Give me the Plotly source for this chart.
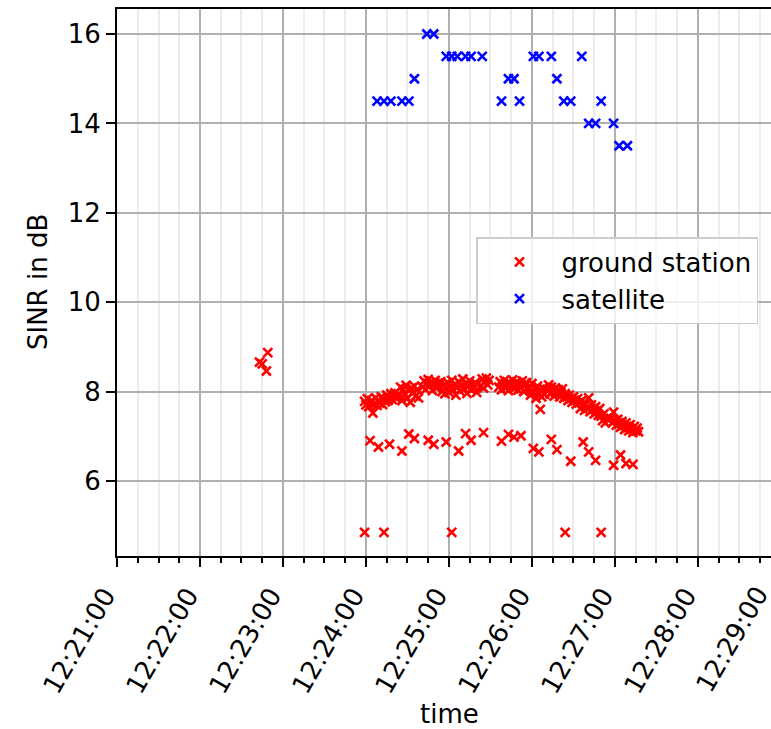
import plotly.graph_objects as go
from datetime import datetime, timedelta

DAY = "2020-01-01"

# ---------------- data ----------------
# satellite measurements
sat_time = ["12:24:08", "12:24:13", "12:24:18", "12:24:26", "12:24:31", "12:24:35",
            "12:24:44", "12:24:49", "12:24:58", "12:25:02", "12:25:06", "12:25:12",
            "12:25:16", "12:25:24", "12:25:38", "12:25:43", "12:25:47", "12:25:51",
            "12:26:01", "12:26:05", "12:26:14", "12:26:18", "12:26:23", "12:26:28",
            "12:26:36", "12:26:41", "12:26:46", "12:26:50", "12:26:59", "12:27:03",
            "12:27:09"]
sat_sinr = [14.5, 14.5, 14.5, 14.5, 14.5, 15.0,
            16.0, 16.0, 15.5, 15.5, 15.5, 15.5,
            15.5, 15.5, 14.5, 15.0, 15.0, 14.5,
            15.5, 15.5, 15.5, 15.0, 14.5, 14.5,
            15.5, 14.0, 14.0, 14.5, 14.0, 13.5,
            13.5]

# ground station: early cluster
gs_early_time = ["12:22:43", "12:22:45", "12:22:49", "12:22:48"]
gs_early_sinr = [8.66, 8.62, 8.87, 8.46]

# ground station: low outliers
gs_low_time = ["12:23:59", "12:24:13", "12:25:02", "12:26:24", "12:26:50"]
gs_low_sinr = [4.85, 4.85, 4.85, 4.85, 4.85]

# ground station: lower row
gs_row_time = ["12:24:03", "12:24:09", "12:24:17", "12:24:26", "12:24:31", "12:24:35",
               "12:24:45", "12:24:49", "12:24:58", "12:25:07", "12:25:12", "12:25:16",
               "12:25:25", "12:25:38", "12:25:43", "12:25:47", "12:25:52", "12:26:01",
               "12:26:05", "12:26:14", "12:26:18", "12:26:28", "12:26:37", "12:26:41",
               "12:26:46", "12:26:59", "12:27:04", "12:27:08", "12:27:13"]
gs_row_sinr = [6.90, 6.76, 6.82, 6.67, 7.05, 6.95,
               6.91, 6.82, 6.87, 6.67, 7.06, 6.91,
               7.08, 6.89, 7.04, 6.98, 7.01, 6.73,
               6.65, 6.93, 6.70, 6.44, 6.87, 6.65,
               6.46, 6.35, 6.58, 6.39, 6.37]

# ground station: dense band, seconds after 12:24:00
gs_band_sec = [-1, 0, 1, 2, 3, 4, 5, 6, 7, 8, 9, 10, 11, 12, 13, 14, 15, 16, 17, 18, 19, 20, 21, 22,
               24, 25, 26, 27, 28, 29, 30, 31, 32, 33, 34, 35, 36, 37, 38,
               41, 42, 43, 44, 45, 46, 47, 48, 49, 50, 51, 52, 53, 54,
               55, 56, 57, 58, 59, 60, 61, 62, 63, 64, 65, 66, 67, 68, 69, 70, 71, 72, 73, 74, 75, 76, 77, 78, 79, 80,
               83, 84, 85, 86, 87, 88, 89,
               96, 97, 98, 99, 100, 101, 102, 103, 104, 105, 106, 107, 108, 109, 110, 111, 112, 113, 114, 115, 116, 117,
               118, 119, 120, 121, 122, 123, 124, 125, 126, 127, 128, 129, 126,
               131, 132, 133, 134, 135, 136, 137, 138, 139, 140, 141, 142, 143, 144, 145, 146, 147, 148, 149, 150, 151, 152, 153,
               154, 155, 156, 157, 158, 159, 160, 161, 162, 163, 164, 165, 166, 167, 168, 169, 170, 171, 172, 173, 174,
               177, 178, 179, 180, 181, 182, 183, 184, 185, 186, 187, 188, 189, 190, 191, 192, 193, 194, 195, 196, 197]
gs_band_sinr = [7.78, 7.70, 7.84, 7.66, 7.75, 7.80, 7.52, 7.72, 7.86, 7.69, 7.79, 7.74, 7.88, 7.71, 7.83, 7.77,
                7.92, 7.80, 7.86, 7.95, 7.82, 7.90, 7.97, 7.85,
                7.92, 8.10, 7.80, 8.05, 7.95, 8.14, 7.85, 8.02, 7.76, 8.08, 7.98, 8.12, 7.90, 8.04, 7.86,
                8.10, 8.24, 8.05, 8.18, 8.27, 8.12, 8.20, 8.02, 8.15, 8.25, 8.08, 8.19, 8.13, 8.22,
                8.00, 8.15, 7.95, 8.08, 8.20, 7.98, 8.12, 8.25, 8.04, 8.16, 7.92, 8.10, 8.22, 8.01, 8.14, 8.28,
                8.06, 8.18, 7.96, 8.12, 8.24, 8.03, 8.15, 8.08, 8.20, 7.98,
                8.12, 8.28, 8.08, 8.22, 8.30, 8.15, 8.25,
                8.10, 8.22, 8.04, 8.16, 8.25, 8.08, 8.18, 8.02, 8.20, 8.12, 8.26, 8.06, 8.15, 8.22, 8.03, 8.17,
                8.10, 8.24, 8.00, 8.14, 8.20, 8.06,
                8.10, 7.92, 8.18, 7.98, 8.06, 7.85, 8.12, 7.95, 8.02, 7.88, 8.08, 7.94, 7.60,
                8.05, 8.15, 7.95, 8.10, 8.00, 7.90, 8.08, 7.96, 8.04, 7.88, 7.98, 8.06, 7.85, 7.95, 7.90, 7.80,
                7.92, 7.84, 7.76, 7.88, 7.80, 7.72, 7.84,
                7.75, 7.62, 7.80, 7.68, 7.58, 7.72, 7.64, 7.86, 7.55, 7.70, 7.60, 7.50, 7.66, 7.56, 7.47, 7.62,
                7.45, 7.35, 7.50, 7.30, 7.40,
                7.40, 7.30, 7.54, 7.35, 7.25, 7.38, 7.28, 7.20, 7.33, 7.24, 7.15, 7.30, 7.20, 7.12, 7.26, 7.16,
                7.08, 7.22, 7.12, 7.18, 7.10]

x_tick_labels = ["12:21:00", "12:22:00", "12:23:00", "12:24:00", "12:25:00",
                 "12:26:00", "12:27:00", "12:28:00", "12:29:00"]

# ---------------- build ----------------
def ts(hms):
    return datetime.strptime(f"{DAY} {hms}", "%Y-%m-%d %H:%M:%S")

band_base = ts("12:24:00")
gs_x = ([ts(t) for t in gs_early_time] + [band_base + timedelta(seconds=s) for s in gs_band_sec]
        + [ts(t) for t in gs_row_time] + [ts(t) for t in gs_low_time])
gs_y = gs_early_sinr + gs_band_sinr + gs_row_sinr + gs_low_sinr
sat_x = [ts(t) for t in sat_time]

FONT = "DejaVu Sans, Verdana, sans-serif"

fig = go.Figure()
fig.add_trace(go.Scatter(
    x=gs_x, y=gs_y, mode="markers", name="ground station",
    marker=dict(symbol="x-thin", size=9, color="#ff0000", line=dict(color="#ff0000", width=2.6)),
))
fig.add_trace(go.Scatter(
    x=sat_x, y=sat_sinr, mode="markers", name="satellite",
    marker=dict(symbol="x-thin", size=9, color="#0000ff", line=dict(color="#0000ff", width=2.6)),
))

x0 = ts(x_tick_labels[0])
x_end = x0 + timedelta(seconds=472.8)

fig.update_xaxes(
    type="date", range=[x0, x_end],
    tickmode="array", tickvals=[ts(t) for t in x_tick_labels[:-1]], ticktext=x_tick_labels[:-1],
    tickangle=-60, ticks="outside", ticklen=9, tickwidth=2, tickcolor="black",
    ticklabelstandoff=3, ticklabelshift=-12,
    showline=True, linecolor="black", linewidth=2, mirror=True,
    showgrid=True, gridcolor="#b0b0b0", gridwidth=2, zeroline=False,
    tickfont=dict(family=FONT, size=26, color="black"),
    minor=dict(tick0=x0, dtick=15000, ticks="outside", ticklen=5, tickwidth=1.5,
               tickcolor="black", showgrid=True, gridcolor="#ececec", gridwidth=1.5),
)
fig.update_yaxes(
    range=[4.32, 16.56], tick0=6, dtick=2,
    ticks="outside", ticklen=9, tickwidth=2, tickcolor="black",
    showline=True, linecolor="black", linewidth=2, mirror=True,
    showgrid=True, gridcolor="#b0b0b0", gridwidth=2, zeroline=False,
    tickfont=dict(family=FONT, size=26, color="black"),
)

PLOT_L, PLOT_R = 117, 771
W = PLOT_R - PLOT_L

fig.update_layout(
    width=771, height=729,
    margin=dict(l=PLOT_L, r=0, t=9, b=173, autoexpand=False),
    paper_bgcolor="white", plot_bgcolor="white",
    font=dict(family=FONT, size=26, color="black"),
    legend=dict(x=(476 - PLOT_L) / W, y=(556 - 237) / 547, xanchor="left", yanchor="top",
                bgcolor="rgba(255,255,255,0.8)", bordercolor="#cccccc", borderwidth=1.5,
                font=dict(family=FONT, size=26, color="black"), itemwidth=74),
    annotations=[
        dict(text="time", xref="paper", yref="paper", x=(449.5 - PLOT_L) / W, y=(556 - 714) / 547,
             xanchor="center", yanchor="middle", showarrow=False,
             font=dict(family=FONT, size=26, color="black")),
        dict(text="SINR in dB", xref="paper", yref="paper", x=(37.5 - PLOT_L) / W, y=0.5,
             xanchor="center", yanchor="middle", textangle=-90, showarrow=False,
             font=dict(family=FONT, size=26, color="black")),
        dict(text=x_tick_labels[-1], xref="paper", yref="paper", x=(777.4 - PLOT_L) / W, y=(556 - 578.5) / 547,
             xanchor="right", yanchor="top", textangle=-60, showarrow=False,
             font=dict(family=FONT, size=26, color="black")),
    ],
)

fig.write_html("out.html", config={"displayModeBar": False},
               post_script="document.body.style.margin='0px';document.body.style.overflow='hidden';")
